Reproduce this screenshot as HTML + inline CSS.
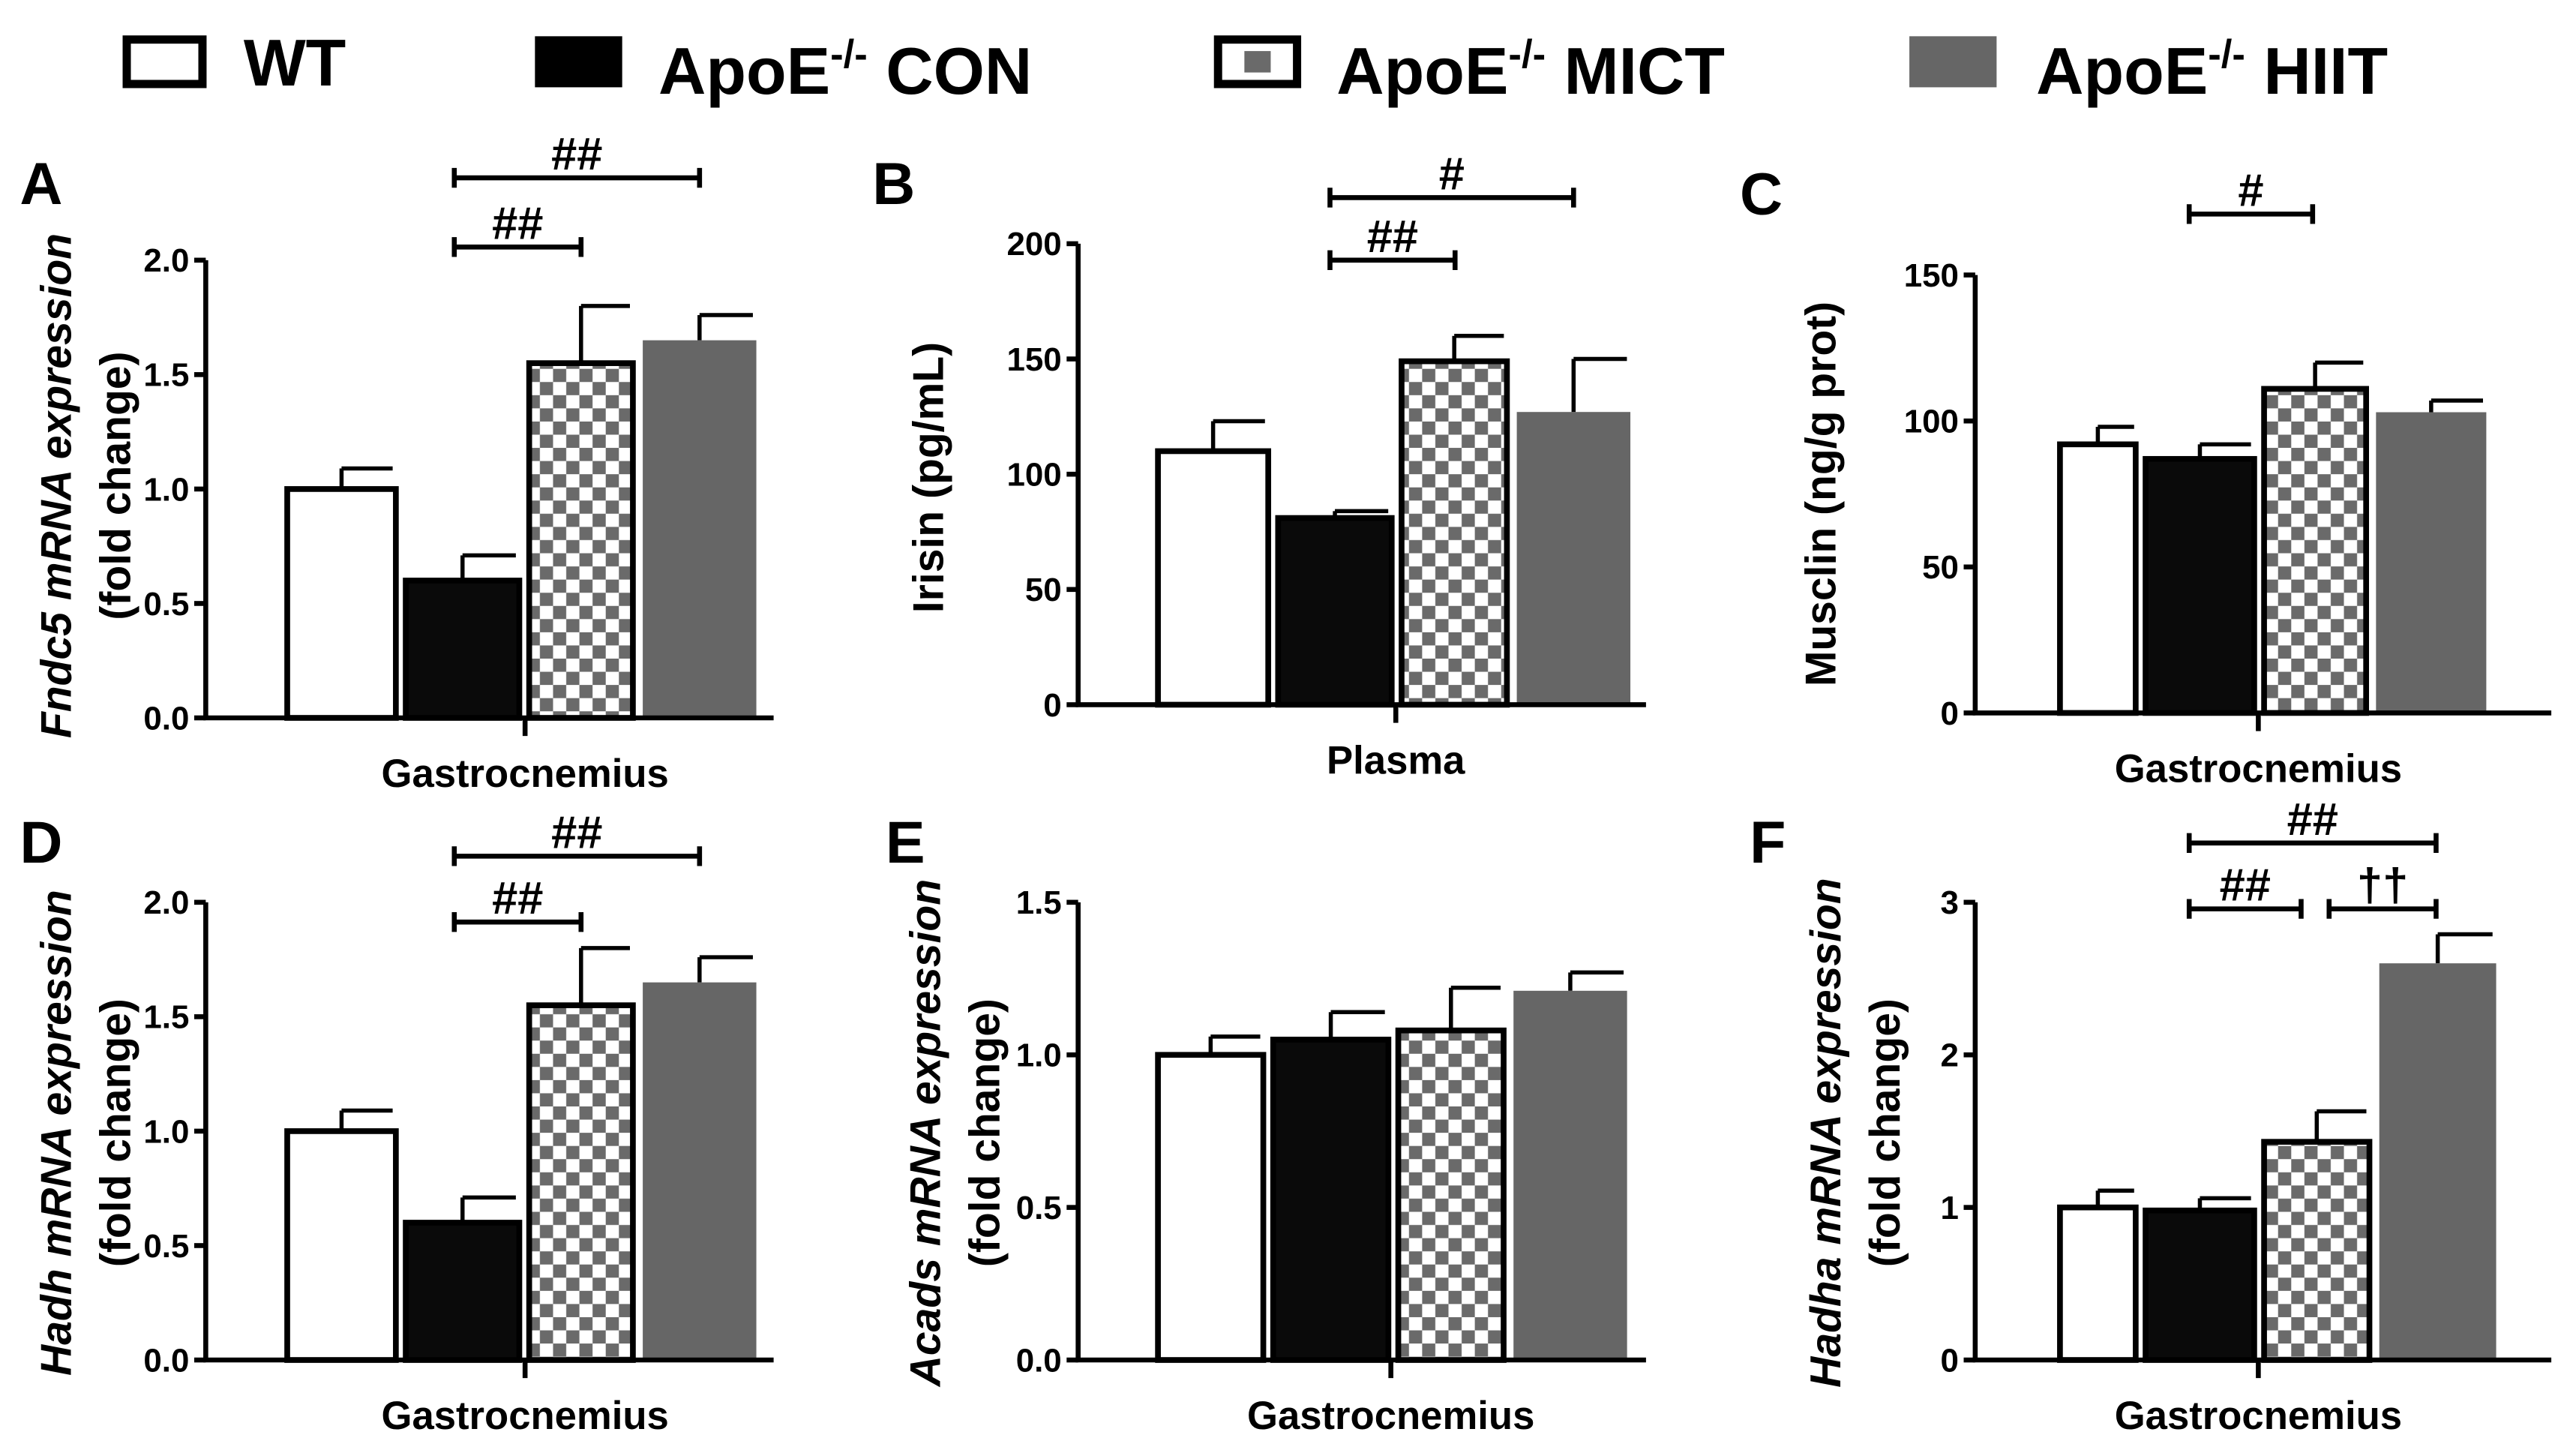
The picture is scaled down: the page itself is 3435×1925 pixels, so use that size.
<!DOCTYPE html>
<html><head><meta charset="utf-8"><style>
html,body{margin:0;padding:0;background:#fff;}
svg{display:block;font-family:"Liberation Sans",Arial,sans-serif;}
</style></head><body>
<svg id="fig" width="3435" height="1925" viewBox="0 0 1565 877" xmlns="http://www.w3.org/2000/svg">
<defs>
<pattern id="chk" patternUnits="userSpaceOnUse" width="16" height="16">
<rect width="16" height="16" fill="#fff"/><rect width="8" height="8" fill="#6a6a6a"/><rect x="8" y="8" width="8" height="8" fill="#6a6a6a"/>
</pattern>
</defs>
<g font-weight="bold" font-size="40">
<g><rect x="77" y="24" width="46" height="27" fill="#fff" stroke="#000" stroke-width="5"/><text x="148" y="52">WT</text></g>
<g><rect x="325" y="22" width="53" height="31" fill="#000"/><text x="400" y="57">ApoE<tspan font-size="24" dy="-16">-/-</tspan><tspan dy="16"> CON</tspan></text></g>
<g><rect x="740" y="24" width="48" height="27" fill="#fff" stroke="#000" stroke-width="5"/><rect x="756" y="31" width="16" height="13" fill="#6a6a6a"/><text x="812" y="57">ApoE<tspan font-size="24" dy="-16">-/-</tspan><tspan dy="16"> MICT</tspan></text></g>
<g><rect x="1160" y="22" width="53" height="31" fill="#666"/><text x="1237" y="57">ApoE<tspan font-size="24" dy="-16">-/-</tspan><tspan dy="16"> HIIT</tspan></text></g>
</g>
</svg>
<script>
const groups = ["WT","ApoE-/- CON","ApoE-/- MICT","ApoE-/- HIIT"];
const valsA = [1.0,0.6,1.55,1.65];   const errA = [1.09,0.71,1.8,1.76];
const ticksA = ["0.0","0.5","1.0","1.5","2.0"];
const valsB = [110,81,149,127];      const errB = [123,84,160,150];
const ticksB = ["0","50","100","150","200"];
const valsC = [92,87,111,103];       const errC = [98,92,120,107];
const ticksC = ["0","50","100","150"];
const valsD = [1.0,0.6,1.55,1.65];   const errD = [1.09,0.71,1.8,1.76];
const ticksD = ["0.0","0.5","1.0","1.5","2.0"];
const valsE = [1.0,1.05,1.08,1.21];  const errE = [1.06,1.14,1.22,1.27];
const ticksE = ["0.0","0.5","1.0","1.5"];
const valsF = [1.0,0.98,1.43,2.6];   const errF = [1.11,1.06,1.63,2.79];
const ticksF = ["0","1","2","3"];

const NS="http://www.w3.org/2000/svg";
const svg=document.getElementById('fig');
function mk(tag,attrs,parent){const e=document.createElementNS(NS,tag);for(const k in attrs)e.setAttribute(k,attrs[k]);(parent||svg).appendChild(e);return e;}

function panel(p){
  const g=mk('g',{});
  
  
  const max=parseFloat(p.ticks[p.ticks.length-1]);
  const y=v=>p.y0-(v/max)*(p.y0-p.yTop);
  const lt=mk('text',{x:p.lx,y:p.ly,'font-size':36,'font-weight':'bold'},g);lt.textContent=p.id;
  
  
  const fills=['#fff','#0a0a0a','url(#chk)','#666'];
  p.vals.forEach((v,i)=>{
    const x0=p.bx[i],x1=p.bx[i+1]-3,cx=(x0+x1)/2;
    const eb=mk('line',{x1:cx,x2:cx,y1:y(v),y2:y(p.err[i]),stroke:'#000','stroke-width':2.5},g);
    
    
    const ec=mk('line',{x1:cx,x2:cx+(x1-x0)*0.45,y1:y(p.err[i]),y2:y(p.err[i]),stroke:'#000','stroke-width':2.5},g);
    
    
    const r=mk('rect',{x:x0+1.5,y:y(v),width:x1-x0-3,height:p.y0-y(v),fill:fills[i],stroke:i<3?'#000':'none','stroke-width':i<3?3.5:0},g);
    
    
  });
  const ax=mk('path',{d:`M${p.ax},${p.yTop} L${p.ax},${p.y0} L${p.xEnd},${p.y0} M${p.xt},${p.y0} L${p.xt},${p.y0+11}`,stroke:'#000','stroke-width':3,fill:'none'},g);
  
  
  p.ticks.forEach(t=>{
    const yy=y(parseFloat(t));
    mk('line',{x1:p.ax-7,x2:p.ax,y1:yy,y2:yy,stroke:'#000','stroke-width':3},g);
    const tt=mk('text',{x:p.ax-10,y:yy+7,'font-size':20,'font-weight':'bold','text-anchor':'end'},g);tt.textContent=t;
    
    
  });
  const xl=mk('text',{x:p.xt,y:p.y0+42,'font-size':24,'font-weight':'bold','text-anchor':'middle'},g);xl.textContent=p.xlab;
  
  
  p.title.forEach((tl,i)=>{
    const tx=mk('text',{transform:`translate(${p.tx+i*36},${p.tcy}) rotate(-90)`,'font-size':26,'font-weight':'bold','text-anchor':'middle'},g);
    tx.innerHTML=tl;
    
    
  });
  p.sig.forEach(s=>{
    const sb=mk('path',{d:`M${s[0]},${s[2]-6} L${s[0]},${s[2]+6} M${s[0]},${s[2]} L${s[1]},${s[2]} M${s[1]},${s[2]-6} L${s[1]},${s[2]+6}`,stroke:'#000','stroke-width':3,fill:'none'},g);
    
    
    const st=mk('text',{x:(s[0]+s[1])/2,y:s[2]-5,'font-size':28,'font-weight':'bold','text-anchor':'middle'},g);st.textContent=s[3];
    
    
  });
}
const fr='<tspan font-style="italic">';
panel({id:'A',lx:12,ly:124,ax:125,yTop:158,y0:436,xEnd:470,xt:319,bx:[173,245,320,389,464],vals:valsA,err:errA,ticks:ticksA,xlab:'Gastrocnemius',title:[fr+'Fndc5 mRNA expression</tspan>','(fold change)'],tx:43,tcy:295,sig:[[276,353,150,'##'],[276,425,108,'##']]});
panel({id:'B',lx:530,ly:124,ax:655,yTop:148,y0:428,xEnd:1000,xt:848,bx:[702,775,850,920,995],vals:valsB,err:errB,ticks:ticksB,xlab:'Plasma',title:['Irisin  (pg/mL)'],tx:573,tcy:290,sig:[[808,884,158,'##'],[808,956,120,'#']]});
panel({id:'C',lx:1057,ly:130,ax:1200,yTop:167,y0:433,xEnd:1550,xt:1372,bx:[1250,1302,1374,1442,1515],vals:valsC,err:errC,ticks:ticksC,xlab:'Gastrocnemius',title:['Musclin (ng/g prot)'],tx:1115,tcy:300,sig:[[1330,1405,130,'#']]});
panel({id:'D',lx:12,ly:524,ax:125,yTop:548,y0:826,xEnd:470,xt:319,bx:[173,245,320,389,464],vals:valsD,err:errD,ticks:ticksD,xlab:'Gastrocnemius',title:[fr+'Hadh mRNA expression</tspan>','(fold change)'],tx:43,tcy:688,sig:[[276,353,560,'##'],[276,425,520,'##']]});
panel({id:'E',lx:538,ly:524,ax:655,yTop:548,y0:826,xEnd:1000,xt:845,bx:[702,772,848,918,993],vals:valsE,err:errE,ticks:ticksE,xlab:'Gastrocnemius',title:[fr+'Acads mRNA expression</tspan>','(fold change)'],tx:571,tcy:688,sig:[]});
panel({id:'F',lx:1063,ly:524,ax:1200,yTop:548,y0:826,xEnd:1550,xt:1372,bx:[1250,1302,1374,1444,1521],vals:valsF,err:errF,ticks:ticksF,xlab:'Gastrocnemius',title:[fr+'Hadha mRNA expression</tspan>','(fold change)'],tx:1118,tcy:688,sig:[[1330,1480,512,'##'],[1330,1398,552,'##'],[1415,1480,552,'††']]});
</script>
</body></html>
